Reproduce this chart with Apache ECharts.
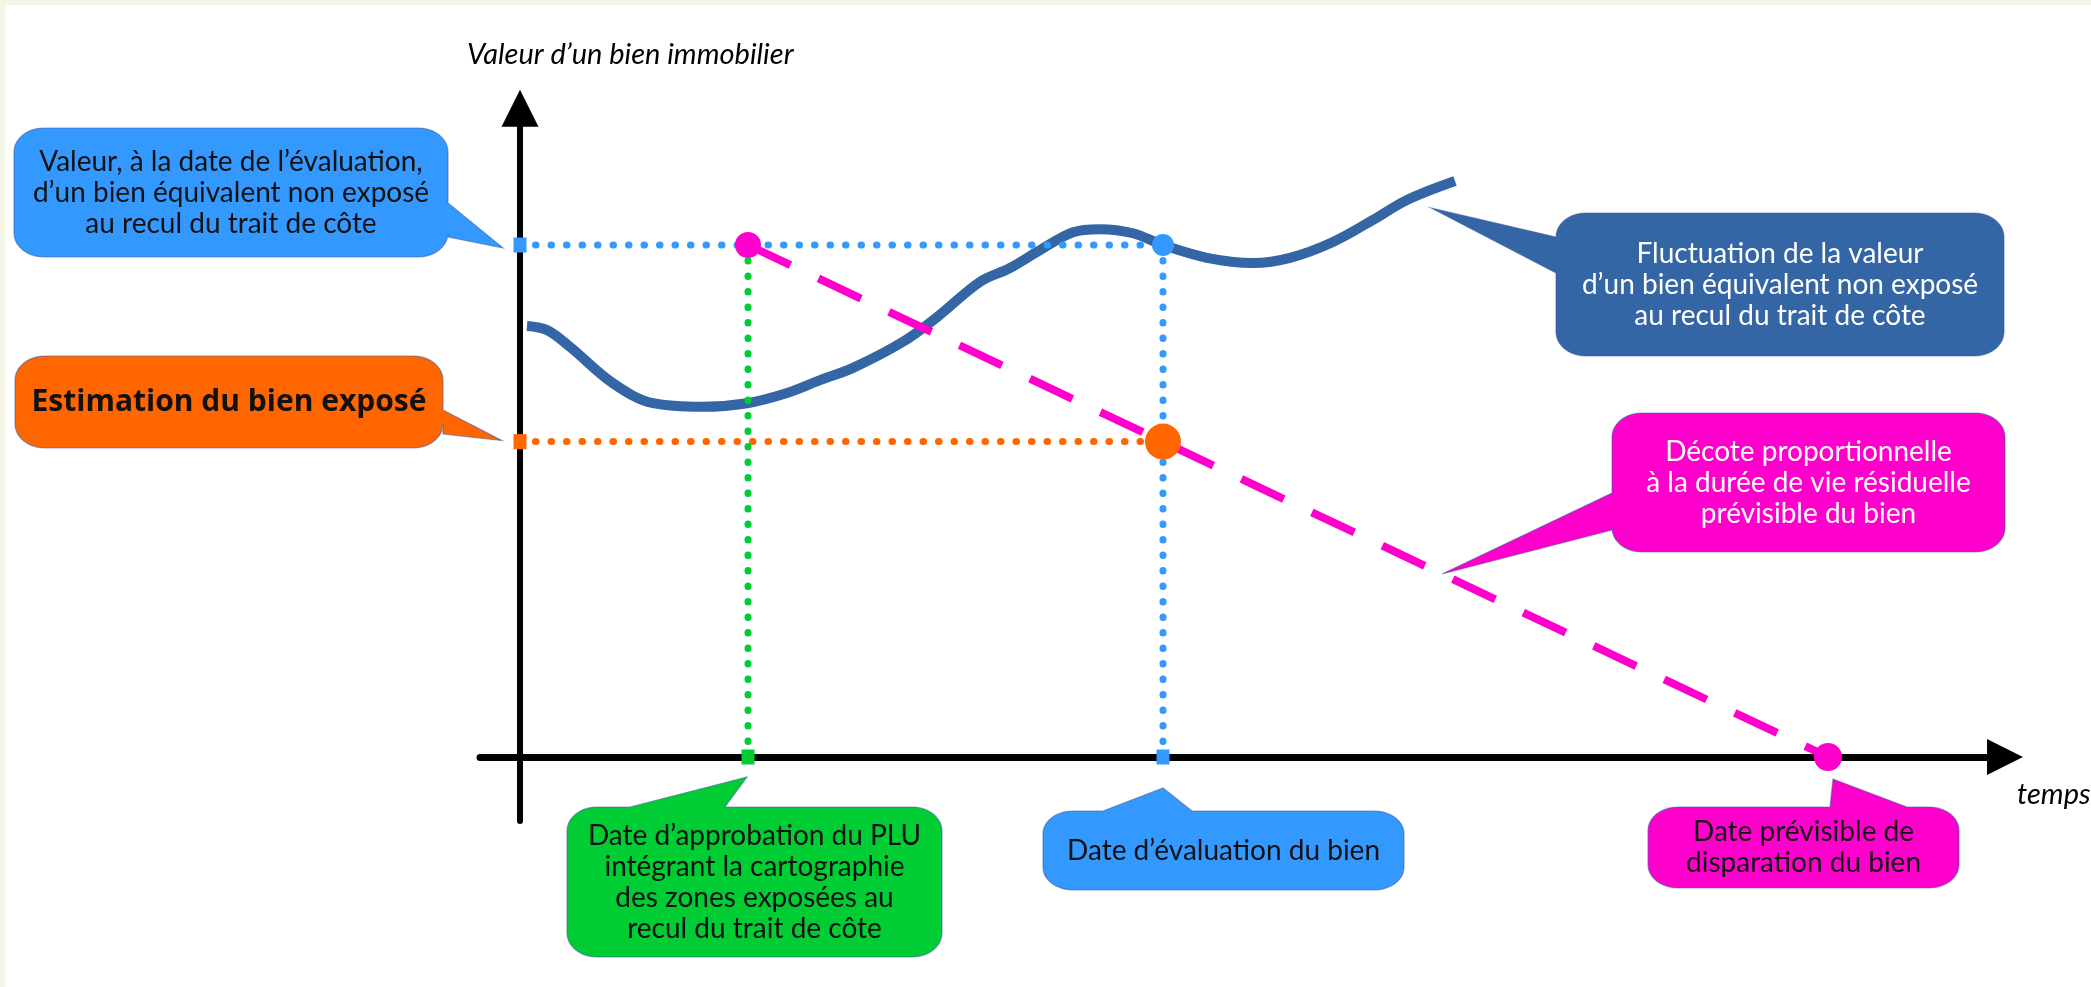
<!DOCTYPE html>
<html><head><meta charset="utf-8">
<script src="https://cdn.jsdelivr.net/npm/echarts@6/dist/echarts.min.js"></script>
<style>html,body{margin:0;padding:0;background:#fff}#c{width:2091px;height:987px}</style>
</head><body><div id="c"></div><script>
// ---- data (time in arbitrary units, value in % of non-exposed reference value)
const curveTime  = [0.14,0.54,1.0,1.86,2.66,3.66,4.54,5.34,6.0,6.66,7.66,8.34,9.2,9.8,10.4,11.06,11.6,12.26,12.86,13.74,14.66,15.4,16.26,17.06,17.74,18.7];
const curveValue = [84.2,83.4,80.1,73.0,69.1,68.4,69.1,71.1,73.6,76.0,81.1,85.9,92.8,95.5,99.0,102.5,103.1,102.3,100,97.5,96.5,97.5,100.6,104.9,108.8,112.5];
const keyDateNames = ['PLU', 'Évaluation', 'Disparition'];
const keyDates     = [4.56, 12.86, 26.16];
const refValue     = 100;   // valeur d'un bien équivalent non exposé à la date d'évaluation
const exposedValue = 61.6;  // estimation du bien exposé
const decoteLabelTime = 18.44;

const tPLU = keyDates[0], tEval = keyDates[1], tDisp = keyDates[2];
const BLUE = '#3399ff', DARK = '#3465a4', GREEN = '#00cc33', ORANGE = '#ff6600', MAGENTA = '#ff00cc';
const FONT = 'Lato, "Noto Sans", sans-serif';

const chart = echarts.init(document.getElementById('c'), null, {renderer: 'canvas'});
const dotted = (c) => ({color: c, width: 7, type: [0.5, 15], cap: 'round'});
const endRect = (v, c) => ({value: v, symbol: 'rect', symbolSize: [13, 15], itemStyle: {color: c, opacity: 1}});
const plain = (v) => ({value: v, symbol: 'none'});

chart.setOption({
  animation: false,
  backgroundColor: '#f5f5e6',
  grid: {left: 480, right: 86, top: 108.3, bottom: 166, containLabel: false, outerBoundsMode: 'none'},
  xAxis: {type: 'value', min: -0.8, max: 29.7,
    axisLine: {show: true, onZero: true, symbol: ['none', 'triangle'], symbolSize: [36, 36], lineStyle: {color: '#000', width: 7}},
    axisTick: {show: false}, axisLabel: {show: false}, splitLine: {show: false}},
  yAxis: {type: 'value', min: -12.5, max: 126.7,
    axisLine: {show: true, onZero: true, symbol: ['none', 'triangle'], symbolSize: [37, 37], lineStyle: {color: '#000', width: 6}},
    axisTick: {show: false}, axisLabel: {show: false}, splitLine: {show: false}},
  series: [
    {name: 'Fluctuation', type: 'line', smooth: 0.35, showSymbol: false, z: 2,
     data: curveTime.map((t, i) => [t, curveValue[i]]),
     lineStyle: {color: DARK, width: 10}},
    {name: 'valeur ref', type: 'line', z: 3, showSymbol: true, lineStyle: dotted(BLUE),
     data: [endRect([0, refValue], BLUE), plain([tEval, refValue])]},
    {name: 'estimation', type: 'line', z: 3, showSymbol: true, lineStyle: dotted(ORANGE),
     data: [endRect([0, exposedValue], ORANGE), plain([tEval, exposedValue])]},
    {name: 'date PLU', type: 'line', z: 3, showSymbol: true, lineStyle: dotted(GREEN),
     data: [plain([tPLU, refValue]), endRect([tPLU, 0], GREEN)]},
    {name: 'date eval', type: 'line', z: 3, showSymbol: true, lineStyle: dotted(BLUE),
     data: [plain([tEval, refValue]), endRect([tEval, 0], BLUE)]},
    {name: 'décote', type: 'line', z: 5, showSymbol: true,
     lineStyle: {color: MAGENTA, width: 8, type: [47, 31]},
     itemStyle: {color: MAGENTA, opacity: 1},
     data: [{value: [tPLU, refValue], symbol: 'circle', symbolSize: 26},
            {value: [tDisp, 0], symbol: 'circle', symbolSize: 28}]},
    {name: 'valeur eval', type: 'scatter', z: 6, symbolSize: 22, itemStyle: {color: BLUE, opacity: 1},
     data: [[tEval, refValue]]},
    {name: 'bien exposé', type: 'scatter', z: 6, symbolSize: 36, itemStyle: {color: ORANGE, opacity: 1},
     data: [[tEval, exposedValue]]}
  ]
});

const px = (t, v) => chart.convertToPixel({gridIndex: 0}, [t, v]);
const add = (p, d) => [p[0] + d[0], p[1] + d[1]];

function calloutPoints(b, side, base, tip) {
  const [x, y, w, h] = b; const rx = 30, ry = Math.min(24, h / 3.5); const pts = [];
  const corner = (cx, cy, a0, a1) => { for (let i = 0; i <= 10; i++) { const a = a0 + (a1 - a0) * i / 10; pts.push([cx + rx * Math.cos(a), cy + ry * Math.sin(a)]); } };
  corner(x + rx, y + ry, Math.PI, 1.5 * Math.PI);
  if (side === 'top') pts.push([base[0], y], tip, [base[1], y]);
  corner(x + w - rx, y + ry, 1.5 * Math.PI, 2 * Math.PI);
  if (side === 'right') pts.push([x + w, base[0]], tip, [x + w, base[1]]);
  corner(x + w - rx, y + h - ry, 0, 0.5 * Math.PI);
  corner(x + rx, y + h - ry, 0.5 * Math.PI, Math.PI);
  if (side === 'left') pts.push([x, base[1]], tip, [x, base[0]]);
  return pts;
}

const decoteV = refValue + (decoteLabelTime - tPLU) * (0 - refValue) / (tDisp - tPLU);
const REG = '28px ' + FONT;
const callouts = [
  {box: [14, 128, 434, 129], side: 'right', base: [203, 237], tip: add(px(0, refValue), [-17, 3]), fill: BLUE,
   text: 'Valeur, à la date de l’évaluation,\nd’un bien équivalent non exposé\nau recul du trait de côte', color: '#111', font: REG},
  {box: [15, 356, 428, 92], side: 'right', base: [410, 434], tip: add(px(0, exposedValue), [-18, -1]), fill: ORANGE,
   text: 'Estimation du bien exposé', color: '#111', font: 'bold 30px "Open Sans", Lato, sans-serif'},
  {box: [1556, 213, 448, 143], side: 'left', base: [237, 273], tip: add(px(curveTime[curveTime.length - 1], curveValue[curveValue.length - 1]), [-24, 27]), fill: DARK,
   text: 'Fluctuation de la valeur\nd’un bien équivalent non exposé\nau recul du trait de côte', color: '#fff', font: REG},
  {box: [1612, 413, 393, 139], side: 'left', base: [493, 530], tip: px(decoteLabelTime, decoteV), fill: MAGENTA,
   text: 'Décote proportionnelle\nà la durée de vie résiduelle\nprévisible du bien', color: '#fff', font: REG},
  {box: [567, 807, 375, 150], side: 'top', base: [630, 725], tip: add(px(tPLU, 0), [-1, 20]), fill: GREEN,
   text: 'Date d’approbation du PLU\nintégrant la cartographie\ndes zones exposées au\nrecul du trait de côte', color: '#111', font: REG},
  {box: [1043, 811, 361, 79], side: 'top', base: [1103, 1192], tip: add(px(tEval, 0), [0, 31]), fill: BLUE,
   text: 'Date d’évaluation du bien', color: '#111', font: REG},
  {box: [1648, 807, 311, 81], side: 'top', base: [1830, 1907], tip: add(px(tDisp, 0), [5, 22]), fill: MAGENTA,
   text: 'Date prévisible de\ndisparation du bien', color: '#111', font: REG}
];

const graphic = [
  {type: 'rect', z: -10, silent: true, shape: {x: 5, y: 5, width: 2091, height: 987}, style: {fill: '#ffffff'}},
  {type: 'text', z: 10, style: {text: 'Valeur d’un bien immobilier', x: 467, y: 55, align: 'left', verticalAlign: 'middle', font: 'italic 29px ' + FONT, fill: '#000'}},
  {type: 'text', z: 10, style: {text: 'temps', x: 2017, y: 795, align: 'left', verticalAlign: 'middle', font: 'italic 29px ' + FONT, fill: '#000'}}
];
callouts.forEach(c => {
  graphic.push({type: 'polygon', z: 8, silent: true, shape: {points: calloutPoints(c.box, c.side, c.base, c.tip)},
    style: {fill: c.fill, stroke: 'rgba(60,90,160,0.55)', lineWidth: 1.2}});
  graphic.push({type: 'text', z: 9, silent: true, style: {text: c.text, x: c.box[0] + c.box[2] / 2, y: c.box[1] + c.box[3] / 2,
    align: 'center', verticalAlign: 'middle', font: c.font, fill: c.color, lineHeight: 31}});
});
chart.setOption({graphic: graphic});
</script></body></html>
